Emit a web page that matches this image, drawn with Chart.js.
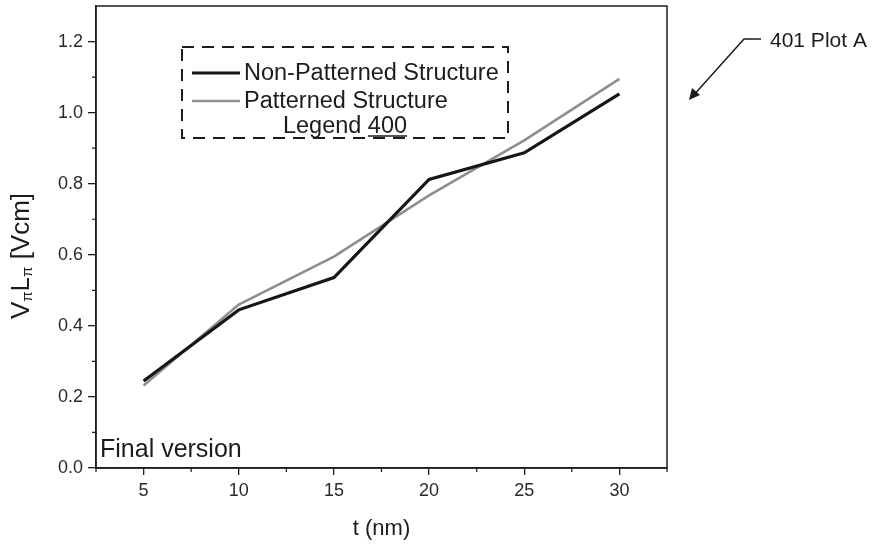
<!doctype html>
<html>
<head>
	<title>VL vs t</title>
	<script src="https://cdn.jsdelivr.net/npm/chart.js@4/dist/chart.umd.min.js"></script>
	<style>
		body { margin: 0; background: #fff; }
		canvas { display: block; }
	</style>
</head>
<body>
	<canvas id="canvas" width="875" height="546"></canvas>
	<script>
		// values
		var thickness = [5, 10, 15, 20, 25, 30];
		var nonPatterned = [0.245, 0.445, 0.536, 0.812, 0.887, 1.053];
		var patterned = [0.232, 0.460, 0.595, 0.767, 0.922, 1.095];
		var xTicks = [5, 10, 15, 20, 25, 30];
		var yTicks = [0.0, 0.2, 0.4, 0.6, 0.8, 1.0, 1.2];
		var xMinor = [2.5, 7.5, 12.5, 17.5, 22.5, 27.5, 32.5];
		var yMinor = [0.1, 0.3, 0.5, 0.7, 0.9, 1.1];

		var FONT = '"Liberation Sans", Arial, sans-serif';
		var INK = '#1c1c1c';

		function pairs(xs, ys) {
			return xs.map(function(x, i) { return {x: x, y: ys[i]}; });
		}

		var decorations = {
			id: 'decorations',
			afterDraw: function(chart) {
				var ctx = chart.ctx;
				var area = chart.chartArea;
				var xs = chart.scales.x, ys = chart.scales.y;
				ctx.save();

				// frame
				ctx.strokeStyle = INK;
				ctx.lineWidth = 1.5;
				ctx.strokeRect(area.left, area.top, area.right - area.left, area.bottom - area.top);

				// minor ticks
				ctx.lineWidth = 1.2;
				ctx.beginPath();
				xMinor.forEach(function(v) {
					var px = xs.getPixelForValue(v);
					ctx.moveTo(px, area.bottom);
					ctx.lineTo(px, area.bottom + 4);
				});
				yMinor.forEach(function(v) {
					var py = ys.getPixelForValue(v);
					ctx.moveTo(area.left, py);
					ctx.lineTo(area.left - 4, py);
				});
				ctx.stroke();

				// y axis title with subscripts
				ctx.fillStyle = INK;
				ctx.translate(22, 256);
				ctx.rotate(-Math.PI / 2);
				var big = '26px ' + FONT, small = '15px ' + FONT;
				var parts = [['V', big, 0], ['\u03c0', small, 6], ['L', big, 0], ['\u03c0', small, 6], [' [Vcm]', big, 0]];
				var total = 0;
				parts.forEach(function(p) { ctx.font = p[1]; total += ctx.measureText(p[0]).width; });
				var cx = -total / 2;
				ctx.textBaseline = 'middle';
				parts.forEach(function(p) {
					ctx.font = p[1];
					ctx.fillText(p[0], cx, p[2]);
					cx += ctx.measureText(p[0]).width;
				});
				ctx.setTransform(1, 0, 0, 1, 0, 0);
				ctx.scale(chart.currentDevicePixelRatio, chart.currentDevicePixelRatio);

				// legend box
				ctx.strokeStyle = INK;
				ctx.lineWidth = 2;
				ctx.setLineDash([12, 8]);
				ctx.strokeRect(182, 47, 326, 91);
				ctx.setLineDash([]);

				var rows = [80, 108];
				chart.data.datasets.forEach(function(ds, i) {
					ctx.strokeStyle = ds.borderColor;
					ctx.lineWidth = ds.borderWidth;
					ctx.beginPath();
					ctx.moveTo(192, rows[i] - 7);
					ctx.lineTo(240, rows[i] - 7);
					ctx.stroke();
					ctx.fillStyle = INK;
					ctx.font = '23.5px ' + FONT;
					ctx.textBaseline = 'alphabetic';
					ctx.textAlign = 'left';
					ctx.fillText(ds.label, 244, rows[i]);
				});
				ctx.font = '23.5px ' + FONT;
				var w1 = ctx.measureText('Legend ').width;
				var w2 = ctx.measureText('400').width;
				var lx = 345 - (w1 + w2) / 2;
				ctx.fillText('Legend ', lx, 133);
				ctx.fillText('400', lx + w1, 133);
				ctx.strokeStyle = INK;
				ctx.lineWidth = 1.5;
				ctx.beginPath();
				ctx.moveTo(lx + w1, 136);
				ctx.lineTo(lx + w1 + w2, 136);
				ctx.stroke();

				// corner note
				ctx.font = '25px ' + FONT;
				ctx.fillText('Final version', 100, 457);

				// figure callout
				ctx.font = '21px ' + FONT;
				ctx.fillText('401 Plot A', 770, 47);
				ctx.lineWidth = 1.5;
				ctx.beginPath();
				ctx.moveTo(761, 39);
				ctx.lineTo(744, 39);
				ctx.lineTo(692, 97);
				ctx.stroke();
				ctx.fillStyle = INK;
				ctx.beginPath();
				ctx.moveTo(689, 100);
				ctx.lineTo(692, 88);
				ctx.lineTo(700, 95);
				ctx.closePath();
				ctx.fill();

				ctx.restore();
			}
		};

		var config = {
			type: 'line',
			data: {
				datasets: [{
					label: 'Non-Patterned Structure',
					data: pairs(thickness, nonPatterned),
					borderColor: '#161616',
					borderWidth: 3.2,
					pointRadius: 0,
					tension: 0
				}, {
					label: 'Patterned Structure',
					data: pairs(thickness, patterned),
					borderColor: '#8e8e8e',
					borderWidth: 2.6,
					pointRadius: 0,
					tension: 0
				}]
			},
			options: {
				responsive: false,
				animation: false,
				layout: { padding: { top: 6, right: 208, left: 0, bottom: 0 } },
				plugins: {
					legend: { display: false },
					tooltip: { enabled: false }
				},
				scales: {
					x: {
						type: 'linear',
						min: 2.5,
						max: 32.5,
						afterFit: function(scale) {
							scale.height = 78;
							scale.paddingLeft = 0;
							scale.paddingRight = 0;
						},
						afterBuildTicks: function(scale) {
							scale.ticks = xTicks.map(function(v) { return {value: v}; });
						},
						grid: { drawOnChartArea: false, drawTicks: true, tickLength: 7, color: INK, lineWidth: 1.3 },
						border: { color: INK, width: 1.5 },
						ticks: {
							padding: 5,
							color: '#2a2a2a',
							font: { family: FONT, size: 18 }
						},
						title: {
							display: true,
							text: 't (nm)',
							color: INK,
							font: { family: FONT, size: 22 },
							padding: { top: 6 }
						}
					},
					y: {
						type: 'linear',
						min: 0,
						max: 1.3,
						afterFit: function(scale) {
							scale.width = 96;
							scale.paddingTop = 0;
							scale.paddingBottom = 0;
						},
						afterBuildTicks: function(scale) {
							scale.ticks = yTicks.map(function(v) { return {value: v}; });
						},
						grid: { drawOnChartArea: false, drawTicks: true, tickLength: 8, color: INK, lineWidth: 1.3 },
						border: { color: INK, width: 1.5 },
						ticks: {
							padding: 5,
							color: '#2a2a2a',
							font: { family: FONT, size: 18 },
							callback: function(v) { return Number(v).toFixed(1); }
						}
					}
				}
			},
			plugins: [decorations]
		};

		window.onload = function() {
			window.myChart = new Chart(document.getElementById('canvas'), config);
		};
	</script>
</body>
</html>
